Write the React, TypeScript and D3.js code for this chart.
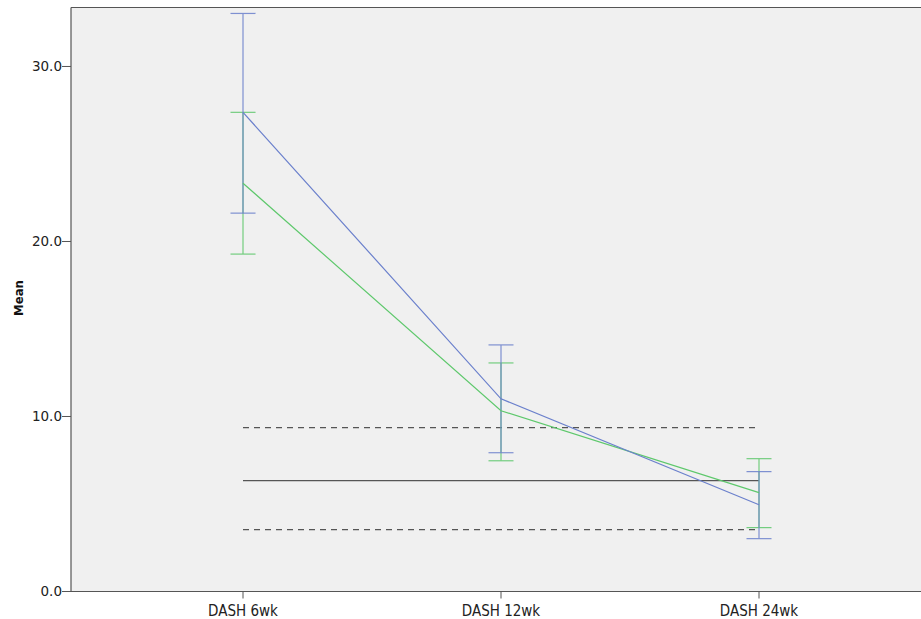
import React from "react";
import * as d3 from "d3";

const categories = ["DASH 6wk", "DASH 12wk", "DASH 24wk"];
const blueMean = [27.38, 11.01, 4.96];
const blueUpper = [33.03, 14.09, 6.85];
const blueLower = [21.62, 7.93, 3.02];
const greenMean = [23.33, 10.33, 5.65];
const greenUpper = [27.38, 13.06, 7.59];
const greenLower = [19.28, 7.47, 3.65];
const yTicks = [0, 10, 20, 30];
const refMean = 6.33;
const refUpper = 9.36;
const refLower = 3.54;

const W = 921;
const H = 619;
const left = 71;
const right = 921;
const top = 7.5;
const bottom = 591.5;

export default function App() {
  const y = d3.scaleLinear().domain([0, 33.37]).range([bottom, top]);
  const x = d3.scalePoint<string>().domain(categories).range([243, 759]);
  const line = d3
    .line<number>()
    .x((_, i) => x(categories[i]) as number)
    .y((d) => y(d));

  const series = [
    { mean: greenMean, up: greenUpper, lo: greenLower, color: "#5ec86c" },
    { mean: blueMean, up: blueUpper, lo: blueLower, color: "#6b80cc" },
  ];
  const x0 = x(categories[0]) as number;
  const x2 = x(categories[2]) as number;
  const cap = 12.5;

  return (
    <svg width={W} height={H} style={{ position: "absolute", left: 0, top: 0 }}>
      <rect x={0} y={0} width={W} height={H} fill="#ffffff" />
      <rect x={left} y={top} width={right - left} height={bottom - top} fill="#f0f0f0" />
      <line x1={x0} x2={x2} y1={y(refMean)} y2={y(refMean)} stroke="#555" strokeWidth={1.3} />
      <line x1={x0} x2={x2} y1={y(refUpper)} y2={y(refUpper)} stroke="#555" strokeWidth={1.2} strokeDasharray="6,5" />
      <line x1={x0} x2={x2} y1={y(refLower)} y2={y(refLower)} stroke="#555" strokeWidth={1.2} strokeDasharray="6,5" />
      {series.map((s, si) => (
        <g key={si}>
          {categories.map((c, i) => {
            const cx = x(c) as number;
            return (
              <g key={c} stroke={s.color} strokeWidth={1.2} opacity={0.85}>
                <line x1={cx} x2={cx} y1={y(s.up[i])} y2={y(s.lo[i])} />
                <line x1={cx - cap} x2={cx + cap} y1={y(s.up[i])} y2={y(s.up[i])} />
                <line x1={cx - cap} x2={cx + cap} y1={y(s.lo[i])} y2={y(s.lo[i])} />
              </g>
            );
          })}
        </g>
      ))}
      {series.map((s, si) => (
        <path key={si} d={line(s.mean) || ""} fill="none" stroke={s.color} strokeWidth={1.2} />
      ))}
      <line x1={left} x2={right} y1={top} y2={top} stroke="#555" strokeWidth={1.2} />
      <line x1={left} x2={right} y1={bottom} y2={bottom} stroke="#555" strokeWidth={1.2} />
      <line x1={left} x2={left} y1={top} y2={bottom} stroke="#555" strokeWidth={1.2} />
      {yTicks.map((t) => (
        <g key={t}>
          <line x1={left - 9} x2={left} y1={y(t)} y2={y(t)} stroke="#555" strokeWidth={1} />
          <text
            x={left - 9}
            y={y(t)}
            dy="0.36em"
            textAnchor="end"
            fontFamily="DejaVu Sans"
            fontSize={13.5}
            fill="#222"
          >
            {d3.format(".1f")(t)}
          </text>
        </g>
      ))}
      {categories.map((c) => (
        <g key={c}>
          <line x1={x(c)} x2={x(c)} y1={bottom} y2={bottom + 7} stroke="#555" strokeWidth={1} />
          <text
            x={x(c)}
            y={616}
            textAnchor="middle"
            fontFamily="DejaVu Sans Condensed"
            fontSize={15}
            fill="#222"
          >
            {c}
          </text>
        </g>
      ))}
      <text
        transform={`translate(23,298) rotate(-90)`}
        textAnchor="middle"
        fontFamily="DejaVu Sans Condensed"
        fontWeight="bold"
        fontSize={13}
        fill="#111"
      >
        Mean
      </text>
    </svg>
  );
}
